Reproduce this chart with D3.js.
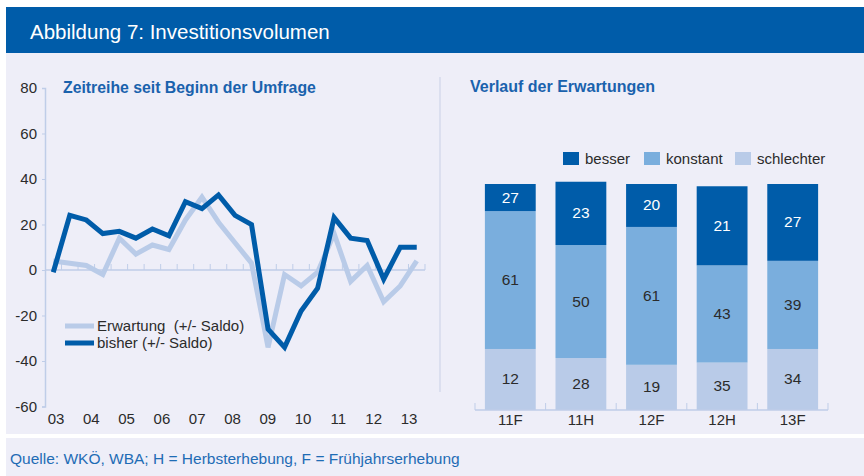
<!DOCTYPE html>
<html>
<head>
<meta charset="utf-8">
<script src="https://cdn.jsdelivr.net/npm/d3@7"></script>
<style>
  body { margin: 0; background: #fff; }
  svg { display: block; font-family: "Liberation Sans", Arial, sans-serif; }
</style>
</head>
<body>
<script>
// Zeitreihe (Halbjahreswerte, Saldo in Prozentpunkten)
var erwartung = [4, 3, 2, -2, 14, 7, 11, 9, 22, 32, 21, 12, 3, -34, -2, -7, -1, 16, -5, 2, -14, -7, 4];
var bisher = [-1, 24, 22, 16, 17, 14, 18, 15, 30, 27, 33, 24, 20, -26, -34, -18, -8, 23, 14, 13, -4, 10, 10];
var jahre = ["03", "04", "05", "06", "07", "08", "09", "10", "11", "12", "13"];
var yTicks = [80, 60, 40, 20, 0, -20, -40, -60];

// Verlauf der Erwartungen (Beschriftungen wie im Original)
var erhebungen = ["11F", "11H", "12F", "12H", "13F"];
var besser = [27, 23, 20, 21, 27];
var konstant = [61, 50, 61, 43, 39];
var schlechter = [12, 28, 19, 35, 34];

var width = 864,
    height = 476;

var dark = "#005ca9",
    mid = "#7aaedd",
    light = "#b9cbe8",
    panel = "#eeeef8",
    axisCol = "#bfcde8",
    textCol = "#2b2b2b";

var svg = d3.select("body")
    .append("svg")
    .attr("width", width)
    .attr("height", height);

// Header + panels
svg.append("rect").attr("x", 6).attr("y", 7).attr("width", width - 6).attr("height", 46).attr("fill", dark);
svg.append("rect").attr("x", 6).attr("y", 53).attr("width", width - 6).attr("height", 381).attr("fill", panel);
svg.append("rect").attr("x", 6).attr("y", 438).attr("width", width - 6).attr("height", 38).attr("fill", panel);

svg.append("text")
    .attr("x", 30).attr("y", 39)
    .attr("fill", "#fff")
    .attr("font-size", "20.5px")
    .text("Abbildung 7: Investitionsvolumen");

svg.append("text")
    .attr("x", 10).attr("y", 464)
    .attr("fill", "#1f6cb5")
    .attr("font-size", "15.5px")
    .text("Quelle: WKÖ, WBA; H = Herbsterhebung, F = Frühjahrserhebung");

// divider
svg.append("line")
    .attr("x1", 440).attr("x2", 440).attr("y1", 77).attr("y2", 392)
    .attr("stroke", "#c9d0e6").attr("stroke-width", 1);

/* ---------------- left: line chart ---------------- */
var y = d3.scaleLinear().domain([-60, 80]).range([406.5, 88]);
var x = d3.scaleBand().domain(d3.range(bisher.length)).range([45, 425]);
var xYear = d3.scalePoint().domain(jahre).range([56, 409]);

var left = svg.append("g");

var yAxis = left.append("g")
    .attr("transform", "translate(45,0)")
    .call(d3.axisLeft(y).tickValues(yTicks).tickSize(3).tickPadding(5).tickFormat(function(d) { return String(d); }));
yAxis.select(".domain").attr("stroke", axisCol).attr("stroke-width", 1.5);
yAxis.selectAll(".tick line").attr("stroke", axisCol);
yAxis.selectAll(".tick text")
    .attr("fill", textCol)
    .attr("font-size", "15px")
    .attr("font-family", "Liberation Sans, Arial, sans-serif");

// zero line with category ticks
left.append("line")
    .attr("x1", x.range()[0]).attr("x2", x.range()[1])
    .attr("y1", y(0)).attr("y2", y(0))
    .attr("stroke", axisCol).attr("stroke-width", 1.5);
left.selectAll(".ztick")
    .data(d3.range(1, bisher.length + 1))
    .enter().append("line")
    .attr("x1", function(d) { return x.range()[0] + d * x.step(); })
    .attr("x2", function(d) { return x.range()[0] + d * x.step(); })
    .attr("y1", y(0)).attr("y2", y(0) - 6)
    .attr("stroke", axisCol).attr("stroke-width", 1);

left.selectAll(".year")
    .data(jahre)
    .enter().append("text")
    .attr("x", function(d) { return xYear(d); })
    .attr("y", 424)
    .attr("text-anchor", "middle")
    .attr("fill", textCol)
    .attr("font-size", "15px")
    .text(function(d) { return d; });

var line = d3.line()
    .x(function(d, i) { return x(i) + x.bandwidth() / 2; })
    .y(function(d) { return y(d); });

left.append("path")
    .datum(erwartung)
    .attr("fill", "none")
    .attr("stroke", light)
    .attr("stroke-width", 5)
    .attr("stroke-linejoin", "miter")
    .attr("d", line);

left.append("path")
    .datum(bisher)
    .attr("fill", "none")
    .attr("stroke", dark)
    .attr("stroke-width", 5)
    .attr("stroke-linejoin", "miter")
    .attr("d", line);

left.append("text")
    .attr("x", 63).attr("y", 93)
    .attr("fill", "#1a62ad")
    .attr("font-size", "15.8px")
    .attr("font-weight", "bold")
    .text("Zeitreihe seit Beginn der Umfrage");

// legend
var lineLegend = [
    { name: "Erwartung  (+/- Saldo)", color: light },
    { name: "bisher (+/- Saldo)", color: dark }
];
var lg = left.selectAll(".lg")
    .data(lineLegend)
    .enter().append("g")
    .attr("transform", function(d, i) { return "translate(65," + (326 + i * 17) + ")"; });
lg.append("line")
    .attr("x1", 0).attr("x2", 29)
    .attr("stroke", function(d) { return d.color; })
    .attr("stroke-width", 5);
lg.append("text")
    .attr("x", 32).attr("y", 5)
    .attr("fill", textCol)
    .attr("font-size", "15px")
    .style("white-space", "pre")
    .attr("xml:space", "preserve")
    .text(function(d) { return d.name; });

/* ---------------- right: stacked bars ---------------- */
// The reference draws the bottom segment with the size of the "besser" figure and
// the top segment with the size of the "schlechter" figure; labels stay as printed.
var rows = erhebungen.map(function(c, i) {
    return { cat: c, unten: besser[i], mitte: konstant[i], oben: schlechter[i],
             labUnten: schlechter[i], labMitte: konstant[i], labOben: besser[i] };
});
var keys = ["unten", "mitte", "oben"];
var labKey = { unten: "labUnten", mitte: "labMitte", oben: "labOben" };
var fills = { unten: light, mitte: mid, oben: dark };
var series = d3.stack().keys(keys)(rows);

var xb = d3.scaleBand().domain(erhebungen).range([475, 828]).paddingInner(0.28).paddingOuter(0.14);
var yb = d3.scaleLinear().domain([0, 100]).range([410, 184]);

var right = svg.append("g");

right.append("text")
    .attr("x", 470).attr("y", 92)
    .attr("fill", "#1a62ad")
    .attr("font-size", "16px")
    .attr("font-weight", "bold")
    .text("Verlauf der Erwartungen");

var layer = right.selectAll(".layer")
    .data(series)
    .enter().append("g");

layer.selectAll("rect")
    .data(function(s) { return s.map(function(d) { d.key = s.key; return d; }); })
    .enter().append("rect")
    .attr("x", function(d) { return xb(d.data.cat); })
    .attr("width", xb.bandwidth())
    .attr("y", function(d) { return yb(d[1]); })
    .attr("height", function(d) { return yb(d[0]) - yb(d[1]); })
    .attr("fill", function(d) { return fills[d.key]; });

layer.selectAll("text")
    .data(function(s) { return s; })
    .enter().append("text")
    .attr("x", function(d) { return xb(d.data.cat) + xb.bandwidth() / 2; })
    .attr("y", function(d) { return (yb(d[0]) + yb(d[1])) / 2 + 5; })
    .attr("text-anchor", "middle")
    .attr("font-size", "15.5px")
    .attr("fill", function(d) { return d.key === "oben" ? "#fff" : textCol; })
    .text(function(d) { return d.data[labKey[d.key]]; });

// baseline with boundary ticks
right.append("line")
    .attr("x1", xb.range()[0]).attr("x2", xb.range()[1])
    .attr("y1", yb(0)).attr("y2", yb(0))
    .attr("stroke", axisCol).attr("stroke-width", 1.5);
right.selectAll(".btick")
    .data(d3.range(erhebungen.length + 1))
    .enter().append("line")
    .attr("x1", function(d) { return xb.range()[0] + d * xb.step(); })
    .attr("x2", function(d) { return xb.range()[0] + d * xb.step(); })
    .attr("y1", yb(0)).attr("y2", yb(0) - 7)
    .attr("stroke", axisCol).attr("stroke-width", 1);

right.selectAll(".cat")
    .data(erhebungen)
    .enter().append("text")
    .attr("x", function(d) { return xb(d) + xb.bandwidth() / 2; })
    .attr("y", 425)
    .attr("text-anchor", "middle")
    .attr("fill", textCol)
    .attr("font-size", "15px")
    .text(function(d) { return d; });

// legend
var barLegend = [
    { name: "besser", color: dark, x: 563 },
    { name: "konstant", color: mid, x: 644 },
    { name: "schlechter", color: light, x: 735 }
];
var bl = right.selectAll(".bl")
    .data(barLegend)
    .enter().append("g")
    .attr("transform", function(d) { return "translate(" + d.x + ",152)"; });
bl.append("rect")
    .attr("width", 16).attr("height", 13)
    .attr("fill", function(d) { return d.color; });
bl.append("text")
    .attr("x", 22).attr("y", 12)
    .attr("fill", textCol)
    .attr("font-size", "15px")
    .text(function(d) { return d.name; });
</script>
</body>
</html>
